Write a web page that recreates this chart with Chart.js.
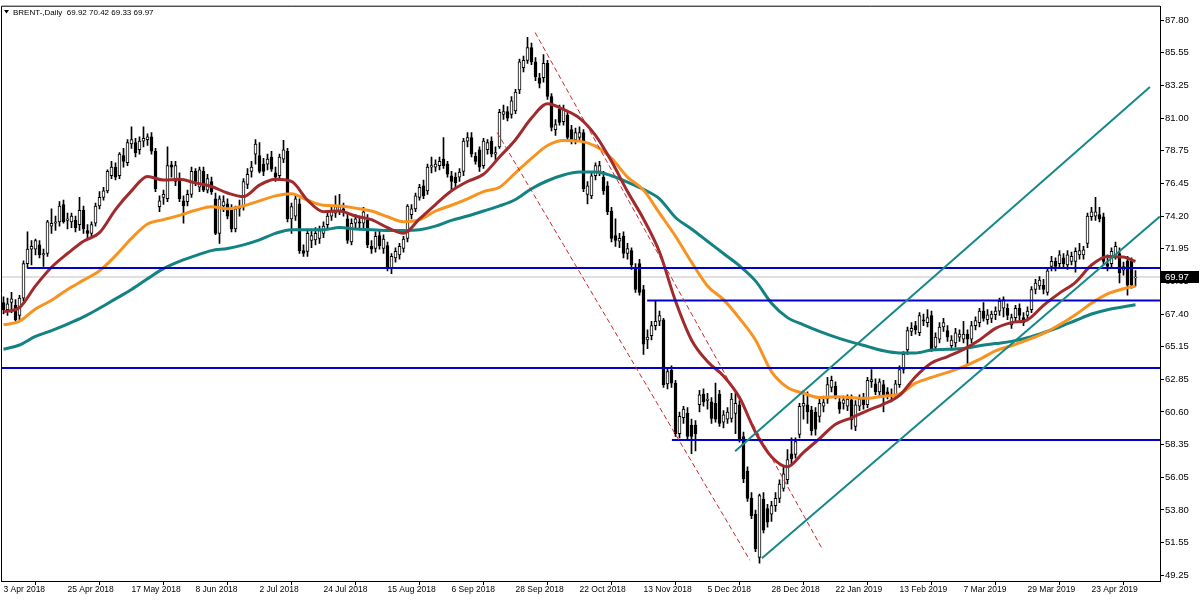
<!DOCTYPE html>
<html>
<head>
<meta charset="utf-8">
<script src="https://cdn.jsdelivr.net/npm/chart.js@4.4.1/dist/chart.umd.min.js"></script>
<style>
html,body{margin:0;padding:0;background:#ffffff;}
#wrap{width:1200px;height:600px;position:relative;}
</style>
</head>
<body>
<div id="wrap"><canvas id="c" width="1200" height="600"></canvas></div>
<script>
// ---- tick labels (every 16 trading days) ----
const tickLabels = ['3 Apr 2018','25 Apr 2018','17 May 2018','8 Jun 2018','2 Jul 2018','24 Jul 2018','15 Aug 2018','6 Sep 2018','28 Sep 2018','22 Oct 2018','13 Nov 2018','5 Dec 2018','28 Dec 2018','22 Jan 2019','13 Feb 2019','7 Mar 2019','29 Mar 2019','23 Apr 2019'];
const tickBars = [0,16,32,48,64,80,96,112,128,144,160,176,192,208,224,240,256,272];
const priceTicks = [87.80,85.55,83.25,81.00,78.75,76.45,74.20,71.95,69.65,67.40,65.15,62.85,60.60,58.35,56.05,53.80,51.55,49.25];

// ---- daily OHLC (bar 0 = 3 Apr 2018) ----
const opens = [
68.2,67.7,68.2,68.0,67.3,68.5,70.9,71.9,71.9,72.2,
71.5,71.6,73.5,73.7,73.8,75.0,73.9,73.8,73.9,73.6,
74.6,73.2,73.0,73.7,74.9,75.5,75.95,77.0,77.6,77.0,
78.4,77.9,79.2,79.3,78.8,79.4,79.5,79.7,78.7,74.85,
75.5,75.4,77.75,76.6,76.8,75.25,75.2,75.7,77.3,76.2,
77.3,76.0,76.6,75.4,73.0,74.9,75.05,74.6,73.3,74.7,
74.85,76.4,77.3,78.5,78.4,77.8,77.8,78.3,77.2,77.0,
78.15,78.7,74.0,74.2,75.05,71.8,71.75,72.5,72.55,72.65,
73.0,73.6,74.2,74.4,74.55,74.7,74.0,72.4,73.7,73.8,
73.7,73.9,72.1,71.95,72.85,71.95,72.15,70.6,71.3,71.5,
71.95,72.65,74.3,74.7,75.5,76.3,75.95,77.6,77.6,77.7,
78.15,77.8,77.0,76.9,76.9,77.3,79.4,79.65,78.35,78.8,
77.7,78.8,79.4,78.5,79.0,81.25,81.45,81.25,81.5,82.95,
84.5,85.0,85.9,84.9,83.8,83.8,84.8,82.5,80.2,81.6,
80.75,81.2,80.2,79.5,79.65,80.0,75.7,75.6,77.0,77.3,
76.9,76.3,74.55,72.85,72.45,72.8,71.6,71.8,70.6,70.9,
69.1,65.6,65.9,66.6,66.9,67.0,62.55,63.5,62.6,59.1,
60.2,60.5,59.7,59.7,61.1,61.85,61.4,61.3,61.2,61.85,
59.9,60.1,60.15,60.5,61.1,58.9,56.5,54.6,53.5,50.5,
54.55,53.9,53.5,54.1,54.6,55.3,55.9,57.7,57.65,59.05,
61.0,61.1,60.75,60.6,60.3,61.0,61.5,62.3,62.4,61.3,
61.2,61.0,61.45,59.6,61.0,61.5,61.1,62.7,62.55,62.0,
62.5,62.0,61.85,61.8,62.5,63.55,64.9,66.2,66.6,66.1,
67.0,66.8,67.3,65.1,65.65,66.5,66.25,65.2,65.4,65.8,
65.65,66.0,65.65,66.6,66.8,67.6,67.0,67.1,67.35,67.6,
67.8,67.8,66.65,67.15,67.8,67.15,67.3,67.7,69.1,69.35,
69.4,68.9,70.7,71.05,70.9,71.3,70.8,71.05,71.05,71.5,
71.5,72.3,74.15,74.2,74.3,74.15,70.9,70.9,71.5,71.6,
70.45,71.1,71.05,69.92];
const highs = [
68.6,68.5,68.9,68.4,68.7,71.1,73.1,72.5,72.6,72.5,
71.9,73.9,74.7,74.2,75.2,75.3,74.4,74.4,74.2,75.5,
74.9,73.6,73.8,75.1,75.9,76.2,77.4,78.0,77.9,78.6,
78.9,79.5,80.4,79.6,79.7,80.4,79.9,80.0,78.9,75.6,
76.0,79.0,78.0,78.0,77.2,75.6,76.0,77.6,77.5,77.6,
77.6,77.1,76.9,75.8,75.6,75.6,75.4,75.0,74.9,75.3,
76.8,77.5,78.0,79.5,79.3,78.2,78.5,78.7,77.6,78.5,
79.45,78.9,75.1,75.6,75.4,72.2,73.2,73.2,73.4,73.5,
73.8,74.5,74.9,75.6,75.7,75.1,74.4,74.0,74.3,74.2,
74.8,74.3,72.5,73.1,73.2,72.9,72.4,71.6,72.0,72.3,
72.8,75.0,75.0,75.8,76.4,76.7,77.8,78.3,78.1,78.3,
79.65,78.0,77.3,77.2,77.5,79.6,80.0,80.0,78.6,79.0,
79.6,79.5,79.7,79.0,81.6,81.9,81.8,82.5,83.0,85.1,
85.3,86.6,86.2,85.2,84.1,85.4,85.0,82.7,80.9,81.9,
81.9,81.4,80.5,80.3,80.4,80.2,76.6,77.2,77.9,78.0,
77.3,76.6,74.8,74.0,73.0,73.1,72.3,72.0,70.9,71.2,
69.4,66.3,66.9,68.3,67.6,67.1,63.6,63.8,62.8,60.6,
61.0,60.9,60.1,60.0,62.1,62.2,61.9,61.6,62.6,62.1,
60.7,60.9,61.9,61.9,61.4,59.2,56.8,55.0,53.8,54.9,
55.0,54.2,54.4,55.0,55.9,56.8,58.0,58.8,58.8,61.2,
62.1,62.0,61.0,60.9,61.5,61.7,63.0,63.1,62.7,61.6,
61.7,61.8,61.8,61.4,61.8,61.9,63.0,63.55,62.9,62.9,
62.8,62.3,62.2,62.8,63.8,64.8,66.5,66.8,66.9,67.5,
67.4,67.7,67.6,66.1,66.8,67.1,66.6,65.9,66.4,66.3,
66.9,66.3,66.9,67.2,67.8,68.2,67.7,67.6,67.9,68.5,
68.6,68.1,67.4,68.0,68.1,67.5,67.9,69.3,69.8,70.0,
69.8,70.6,71.4,71.3,71.8,71.6,71.8,71.7,72.0,72.3,
72.1,74.4,74.8,75.5,74.8,74.4,71.5,72.0,72.4,72.0,
71.0,71.4,71.3,70.42];
const lows = [
67.4,67.3,67.5,66.9,67.0,68.3,70.6,70.8,71.5,71.3,
70.7,71.4,73.0,73.2,73.5,73.7,73.3,73.4,73.1,73.2,
73.0,72.7,72.8,73.5,74.7,75.3,75.8,76.8,76.7,76.8,
77.6,77.7,78.9,78.3,78.5,79.0,79.1,78.5,75.9,74.5,
75.0,75.2,76.9,76.3,75.2,73.7,74.9,75.5,76.3,75.9,
75.9,75.8,75.7,72.9,72.3,74.5,74.0,73.1,73.1,74.2,
74.6,76.1,76.9,77.8,77.2,77.0,77.4,77.3,76.6,76.8,
77.9,73.8,73.0,73.9,71.6,71.4,71.4,72.0,72.2,72.3,
72.7,73.3,73.9,74.1,74.3,74.2,72.3,72.2,73.4,73.3,
73.4,72.0,71.6,71.7,71.9,71.6,70.4,70.2,71.0,71.2,
71.7,72.4,74.0,74.5,75.3,75.4,75.7,77.2,77.3,77.4,
77.5,76.9,75.9,76.2,76.6,77.0,79.0,78.3,77.8,77.3,
77.5,78.5,78.3,78.1,78.9,80.9,80.8,81.0,81.3,82.7,
84.2,84.8,84.7,83.6,83.1,83.5,82.3,80.1,79.8,80.5,
80.5,79.4,79.2,79.2,79.4,75.9,75.05,75.4,76.7,77.0,
75.7,74.3,72.4,72.1,72.0,71.3,71.2,70.5,68.9,68.7,
64.6,65.0,65.6,66.3,66.6,62.3,62.2,62.3,58.9,58.8,
59.8,58.7,57.7,57.9,60.6,61.0,60.8,59.8,59.9,59.6,
59.5,59.8,59.9,59.1,58.5,55.7,54.4,53.2,50.9,50.1,
52.2,52.6,53.0,53.7,54.3,55.1,55.6,57.0,57.4,58.8,
60.1,59.8,59.0,59.0,59.9,60.6,61.2,62.0,61.5,60.5,
60.8,60.7,59.4,59.3,60.7,60.8,60.9,62.3,61.8,61.7,
60.6,61.5,61.3,61.5,62.3,63.3,64.6,65.9,66.0,65.9,
66.6,66.5,64.8,64.9,65.4,66.2,65.5,64.9,65.1,65.5,
65.4,63.9,65.4,66.3,66.5,66.9,66.7,66.8,67.0,67.3,
67.2,67.0,66.4,66.9,67.0,66.6,67.0,67.5,68.8,69.1,
68.8,68.7,70.4,70.4,70.6,70.6,70.5,70.8,70.3,71.2,
71.2,72.0,73.9,73.9,73.8,70.8,70.4,70.6,71.2,69.55,
70.1,68.7,69.2,69.33];
const closes = [
67.7,68.1,68.45,67.0,68.5,70.9,71.9,72.1,72.5,71.5,
71.6,73.8,73.7,73.8,74.9,73.8,74.0,74.2,73.4,74.6,
73.3,73.0,73.6,74.9,75.5,75.95,77.3,77.6,76.9,78.5,
78.0,79.3,79.5,78.6,79.4,79.6,79.7,78.7,76.1,75.25,
75.7,77.7,77.6,77.7,75.4,74.9,75.7,77.3,76.6,77.4,
76.0,76.8,75.9,73.0,75.4,75.2,74.2,73.3,74.7,74.85,
76.6,77.1,77.6,79.2,77.3,77.3,78.15,77.45,76.9,78.3,
78.8,74.0,74.85,75.4,71.8,71.6,73.0,72.85,73.0,73.2,
73.5,74.2,74.55,74.85,74.85,74.5,72.5,73.7,74.0,73.7,
74.5,72.2,71.9,72.8,72.15,72.6,70.6,71.4,71.75,72.1,
72.6,74.9,74.7,75.6,76.2,75.6,77.6,77.7,77.8,78.0,
77.7,77.1,76.6,76.5,77.25,79.4,79.65,78.5,78.0,77.6,
79.4,79.3,78.5,78.6,81.4,81.45,81.0,82.2,82.8,84.9,
85.0,85.9,84.9,83.85,83.4,84.8,82.5,80.35,80.55,80.7,
81.6,79.65,79.4,80.0,80.0,76.1,76.3,77.0,77.7,77.7,
75.95,74.5,72.65,72.5,72.65,71.6,71.95,70.8,69.1,68.9,
65.3,65.8,66.6,66.9,67.3,62.5,63.4,62.6,59.1,60.3,
60.8,58.9,58.9,59.1,61.8,61.3,61.5,60.15,60.1,59.8,
60.4,60.6,61.5,61.2,58.75,55.95,54.6,53.4,51.1,54.8,
52.4,52.95,54.1,54.6,55.6,56.3,57.3,57.35,58.55,61.0,
61.2,60.6,59.3,59.4,61.2,61.25,62.5,62.8,61.7,60.8,
61.45,61.5,60.05,61.1,61.5,61.1,62.8,62.85,62.0,62.7,
61.8,61.8,61.65,62.55,63.55,64.6,66.25,66.4,66.3,67.3,
66.9,67.15,64.95,65.8,66.5,66.8,65.8,65.6,66.1,66.0,
66.0,65.65,66.6,66.95,67.6,67.1,67.35,67.4,67.6,68.3,
68.4,67.3,67.15,67.8,67.3,66.8,67.6,69.1,69.55,69.75,
69.1,70.4,71.05,70.7,71.5,70.9,71.5,71.4,71.75,71.8,
71.85,74.2,74.5,74.5,74.0,71.05,70.7,71.75,72.1,70.25,
70.7,69.4,69.4,69.97];

const maBars = [0,4,8,12,16,20,24,28,32,36,40,44,48,52,56,60,64,68,72,76,80,84,88,92,96,100,104,108,112,116,120,124,128,132,136,140,144,148,152,156,160,164,168,172,176,180,184,188,192,196,200,204,208,212,216,220,224,228,232,236,240,244,248,252,256,260,264,268,272,276,280,283];
const maFast = [67.55,67.85,69.35,70.65,71.6,72.45,73.05,74.65,75.95,76.95,76.7,76.75,76.5,76.25,75.8,75.55,76.35,76.75,76.6,75.3,74.5,74.55,74.2,73.95,73.4,73.0,74.0,75.0,75.95,76.6,77.1,78.3,79.5,81.0,82.0,81.6,81.0,79.8,78.0,75.9,74.0,71.7,68.3,65.6,64.1,63.1,61.6,59.2,57.5,56.8,57.8,58.75,59.75,60.2,60.7,61.15,61.75,63.05,64.0,64.45,64.95,65.6,66.4,66.8,67.0,68.0,68.85,69.6,70.8,71.4,71.35,71.05];
const maMid = [66.65,66.9,67.75,68.35,69.1,69.75,70.4,71.45,72.65,73.65,73.95,74.25,74.6,74.85,74.7,74.9,75.25,75.6,75.75,75.3,74.95,74.9,74.75,74.55,74.15,73.8,73.95,74.55,74.95,75.4,75.9,76.2,77.2,78.2,79.1,79.45,79.4,79.05,78.2,76.9,76.0,74.4,72.8,71.0,69.35,68.4,67.1,65.6,63.4,62.3,61.9,61.6,61.65,61.6,61.55,61.7,61.85,62.6,63.0,63.35,63.75,64.25,64.85,65.2,65.6,66.05,66.65,67.35,68.15,68.8,69.15,69.35];
const maSlow = [64.95,65.25,65.85,66.25,66.7,67.2,67.8,68.45,69.1,69.85,70.55,71.05,71.45,71.8,71.95,72.2,72.55,73.0,73.25,73.25,73.25,73.4,73.3,73.25,73.2,73.2,73.25,73.5,73.9,74.2,74.55,74.9,75.35,76.1,76.65,77.05,77.25,77.25,77.0,76.55,76.05,75.4,74.1,73.3,72.45,71.6,70.75,69.7,68.15,67.15,66.65,66.2,65.8,65.45,65.15,64.85,64.7,64.7,64.9,64.95,65.0,65.2,65.35,65.5,65.75,66.1,66.5,66.95,67.4,67.7,67.9,68.05];

// ---- drawn objects: horizontal levels and channels ----
const levelPrices = [70.59, 68.34, 63.65, 58.65];
const levelStartBars = [5.9, 160.9, -0.625, 167.1];
const lastPrice = 69.97;
const redChannelA = [[132.9, 86.94], [204.6, 51.14]];
const redChannelB = [[123.4, 80.0], [186.6, 50.31]];
const tealChannelUp = [[182.9, 57.87], [286.6, 83.16]];
const tealChannelLow = [[189.6, 50.45], [289.1, 74.16]];
const header = ['BRENT-,Daily', '69.92 70.42 69.33 69.97'];

// ---- build datasets ----
const X_MIN = -0.625, X_MAX = 289.125;
const wickData = highs.map((h, i) => ({x: i, y: [lows[i], h]}));
const bodyData = closes.map((c, i) => ({x: i, y: [opens[i], c]}));
const bodyFill = closes.map((c, i) => c >= opens[i] ? '#ffffff' : '#000000');
const maPts = arr => arr.map((v, i) => ({x: maBars[i], y: v}));
const seg = pts => pts.map(p => ({x: p[0], y: p[1]}));

const lineBase = {type: 'line', pointRadius: 0, pointHoverRadius: 0, fill: false, tension: 0};

const datasets = [
  Object.assign({}, lineBase, {data: [{x: X_MIN, y: lastPrice}, {x: X_MAX, y: lastPrice}], borderColor: '#c0c0c0', borderWidth: 1, order: 30}),
  {type: 'bar', data: wickData, backgroundColor: '#000000', barThickness: 1, grouped: false, order: 20},
  {type: 'bar', data: bodyData, backgroundColor: bodyFill, borderColor: '#000000', borderWidth: 1, borderSkipped: false, barThickness: 3, grouped: false, order: 19},
  Object.assign({}, lineBase, {data: maPts(maSlow), borderColor: '#138282', borderWidth: 3, cubicInterpolationMode: 'monotone', order: 12}),
  Object.assign({}, lineBase, {data: maPts(maMid), borderColor: '#f7931e', borderWidth: 3, cubicInterpolationMode: 'monotone', order: 11}),
  Object.assign({}, lineBase, {data: maPts(maFast), borderColor: '#a02a2c', borderWidth: 3, cubicInterpolationMode: 'monotone', order: 10})
];
levelPrices.forEach((p, k) => {
  datasets.push(Object.assign({}, lineBase, {data: [{x: levelStartBars[k], y: p}, {x: X_MAX, y: p}], borderColor: '#0000cd', borderWidth: 2, order: 5}));
});
[tealChannelUp, tealChannelLow].forEach(c => {
  datasets.push(Object.assign({}, lineBase, {data: seg(c), borderColor: '#178888', borderWidth: 2, order: 4}));
});
[redChannelA, redChannelB].forEach(c => {
  datasets.push(Object.assign({}, lineBase, {data: seg(c), borderColor: '#c8282a', borderWidth: 1, borderDash: [5, 3], order: 3}));
});

const FONT = 'Liberation Sans';

const overlay = {
  id: 'overlay',
  afterDraw(chart) {
    const ctx = chart.ctx, a = chart.chartArea, ys = chart.scales.y;
    ctx.save();
    // frame
    ctx.strokeStyle = '#000000';
    ctx.lineWidth = 1;
    ctx.beginPath();
    ctx.moveTo(a.left + 0.5, a.bottom);
    ctx.lineTo(a.left + 0.5, a.top - 0.5);
    ctx.lineTo(a.right, a.top - 0.5);
    ctx.stroke();
    // current price box
    const py = Math.round(ys.getPixelForValue(lastPrice));
    ctx.fillStyle = '#000000';
    ctx.fillRect(a.right + 1, py - 6, 1200 - a.right - 2, 12);
    ctx.fillStyle = '#ffffff';
    ctx.font = '9.5px "' + FONT + '"';
    ctx.textBaseline = 'middle';
    ctx.textAlign = 'left';
    ctx.fillText(lastPrice.toFixed(2), a.right + 5, py + 0.5);
    // header
    ctx.fillStyle = '#000000';
    ctx.beginPath();
    ctx.moveTo(4, 10); ctx.lineTo(9, 10); ctx.lineTo(6.5, 13.5); ctx.closePath();
    ctx.fill();
    ctx.font = '8px "' + FONT + '"';
    ctx.textBaseline = 'alphabetic';
    ctx.fillText(header[0], 13, 15);
    const w = ctx.measureText(header[0] + '  ').width;
    ctx.fillText(header[1], 13 + w, 15);
    ctx.restore();
  }
};

new Chart(document.getElementById('c'), {
  type: 'bar',
  data: {datasets},
  options: {
    responsive: false,
    animation: false,
    devicePixelRatio: 1,
    events: [],
    layout: {padding: {left: 1, top: 1, right: 0, bottom: 0}},
    plugins: {legend: {display: false}, tooltip: {enabled: false}},
    scales: {
      x: {
        type: 'linear', min: X_MIN, max: X_MAX, bounds: 'data', offset: false,
        afterBuildTicks: s => { s.ticks = tickBars.map(v => ({value: v})); },
        afterFit: s => { s.height = 19; },
        ticks: {autoSkip: false, maxRotation: 0, minRotation: 0, align: 'start', padding: 0, color: '#000000',
          font: {family: FONT, size: 8.5}, callback: (v, i) => tickLabels[i]},
        grid: {drawOnChartArea: false, drawTicks: true, tickLength: 4, color: '#000000'},
        border: {display: true, color: '#000000', width: 1}
      },
      y: {
        type: 'linear', position: 'right', min: 48.87, max: 88.73, bounds: 'data',
        afterBuildTicks: s => { s.ticks = priceTicks.map(v => ({value: v})); },
        afterFit: s => { s.width = 40; },
        ticks: {padding: 1, color: '#000000', font: {family: FONT, size: 9.5}, callback: v => v.toFixed(2)},
        grid: {drawOnChartArea: false, drawTicks: true, tickLength: 4, color: '#000000'},
        border: {display: true, color: '#000000', width: 1}
      }
    }
  },
  plugins: [overlay]
});
</script>
</body>
</html>
